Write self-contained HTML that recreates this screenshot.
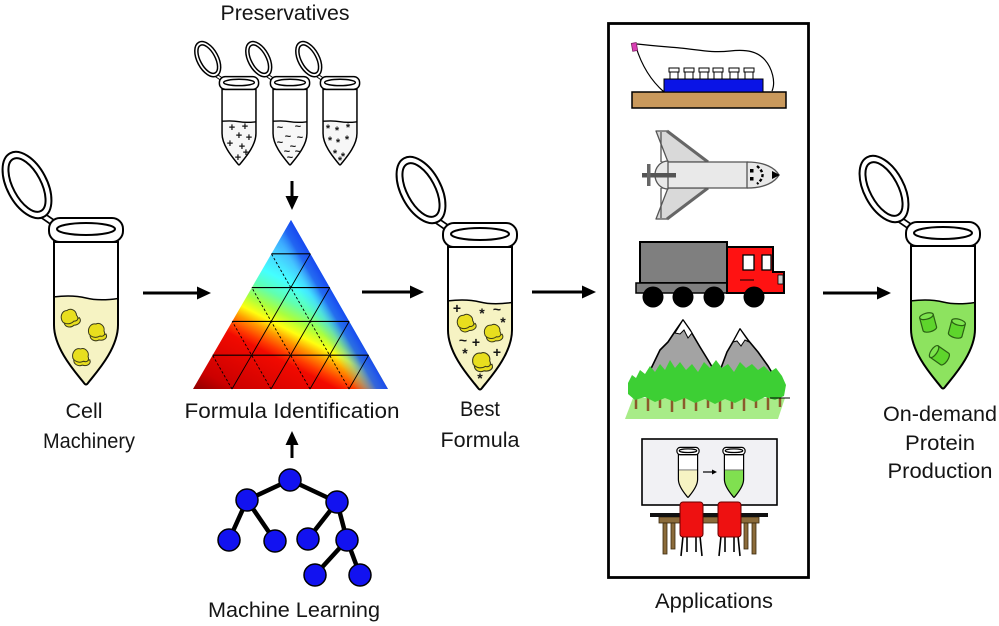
<!DOCTYPE html>
<html><head><meta charset="utf-8"><style>
html,body{margin:0;padding:0;background:#fff;}
svg{display:block;}
text{font-family:"Liberation Sans",Arial,sans-serif;fill:#151515;}
</style></head><body>
<svg width="999" height="626" viewBox="0 0 999 626" xmlns="http://www.w3.org/2000/svg">
<defs>
  <path id="tb" d="M -32,12 L -32,95 C -32,120 -8,145 -2,153 Q 0,156 2,153 C 8,145 32,120 32,95 L 32,12 Z"/>
  <clipPath id="tc"><use href="#tb"/></clipPath>
  <g id="back">
    <line x1="-44" y1="-15" x2="-31" y2="-6" stroke="#000" stroke-width="7"/>
    <line x1="-44" y1="-15" x2="-31" y2="-6" stroke="#fff" stroke-width="3.5"/>
    <g transform="translate(-59,-45) rotate(-28)" fill="#fff" stroke="#000">
      <ellipse rx="20" ry="36"/>
      <ellipse rx="14" ry="29.5"/>
    </g>
  </g>
  <g id="front" stroke="#000">
    <use href="#tb" fill="none"/>
    <rect x="-37" y="-12" width="74" height="24" rx="11" fill="#fff"/>
    <ellipse cx="0" cy="-1" rx="29" ry="6" fill="#fff"/>
  </g>
  <g id="front2" stroke="#000">
    <use href="#tb" fill="none"/>
    <rect x="-37" y="-12" width="74" height="24" rx="11" fill="#fff"/>
    <ellipse cx="0" cy="-1" rx="29" ry="6" fill="#fff"/>
  </g>
  <g id="blob" stroke="#3a3a1a" stroke-width="1" fill="#e8de1e">
    <path d="M -7,3 C -3,6 4,4 9,2 C 11,6 7,9 2,8 C -2,10 -7,8 -7,3 Z"/>
    <path d="M -8,2 C -10,-4 -6,-9 -1,-8 C 3,-10 8,-6 7,-1 C 9,3 6,5 3,4 C 0,6 -5,6 -8,2 Z"/>
  </g>
  <g id="cyl" stroke="#2b6014" stroke-width="1.2" fill="#5ed52c">
    <path d="M -7,-6 L -7,7 A 7,3 0 0 0 7,7 L 7,-6 Z"/>
    <ellipse cx="0" cy="-6" rx="7" ry="3" fill="#7de44e"/>
  </g>
  <clipPath id="tri"><polygon points="193,389 291,220 388,389"/></clipPath>
  <linearGradient id="g1" gradientUnits="userSpaceOnUse" x1="193" y1="389" x2="285" y2="211">
    <stop offset="0" stop-color="#8e0000"/>
    <stop offset="0.1" stop-color="#cc0000"/>
    <stop offset="0.33" stop-color="#f20a00"/>
    <stop offset="0.37" stop-color="#ff3a00"/>
    <stop offset="0.43" stop-color="#ff9a00"/>
    <stop offset="0.48" stop-color="#ffff10"/>
    <stop offset="0.54" stop-color="#a8ff40"/>
    <stop offset="0.61" stop-color="#60ffb0"/>
    <stop offset="0.69" stop-color="#44ffff"/>
    <stop offset="0.8" stop-color="#48ccff"/>
    <stop offset="0.9" stop-color="#2e8cff"/>
    <stop offset="1" stop-color="#2060ff"/>
  </linearGradient>
  <linearGradient id="g2" gradientUnits="userSpaceOnUse" x1="340" y1="304" x2="314" y2="319">
    <stop offset="0" stop-color="#1848f0" stop-opacity="1"/>
    <stop offset="0.35" stop-color="#2060f0" stop-opacity="0.9"/>
    <stop offset="0.7" stop-color="#40b0ff" stop-opacity="0.35"/>
    <stop offset="1" stop-color="#40c0ff" stop-opacity="0"/>
  </linearGradient>
</defs>
<rect width="999" height="626" fill="#fff"/>

<!-- ===== Cell Machinery tube ===== -->
<g transform="translate(86,230)" stroke-width="2">
  <use href="#back"/>
  <use href="#tb" fill="#fff"/>
  <g clip-path="url(#tc)"><path d="M -40,68 Q -16,64 0,68 T 40,67 L 40,170 L -40,170 Z" fill="#f6f3c3" stroke="#000" stroke-width="1.5"/></g>
  <use href="#front"/>
</g>
<use href="#blob" transform="translate(70,318) rotate(-15)"/>
<use href="#blob" transform="translate(97,332)"/>
<use href="#blob" transform="translate(81,357) rotate(5)"/>
<text x="84" y="418" font-size="21" text-anchor="middle" textLength="37" lengthAdjust="spacingAndGlyphs">Cell</text>
<text x="89" y="448" font-size="21" text-anchor="middle" textLength="92" lengthAdjust="spacingAndGlyphs">Machinery</text>

<!-- ===== Arrows ===== -->
<g stroke="#000" stroke-width="3">
  <line x1="143" y1="293" x2="199" y2="293"/>
  <line x1="362" y1="292" x2="412" y2="292"/>
  <line x1="532" y1="292" x2="584" y2="292"/>
  <line x1="823" y1="293" x2="879" y2="293"/>
  <line x1="292" y1="181" x2="292" y2="198"/>
  <line x1="292" y1="458" x2="292" y2="443"/>
</g>
<g fill="#000">
  <polygon points="211,293 197,286.5 197,299.5"/>
  <polygon points="424,292 410,285.5 410,298.5"/>
  <polygon points="596,292 582,285.5 582,298.5"/>
  <polygon points="891,293 877,286.5 877,299.5"/>
  <polygon points="292,210 285.5,196 298.5,196"/>
  <polygon points="292,431 285.5,445 298.5,445"/>
</g>

<!-- ===== Preservatives ===== -->
<text x="285" y="20" font-size="21" text-anchor="middle" textLength="129" lengthAdjust="spacingAndGlyphs">Preservatives</text>
<g transform="translate(239,83) scale(0.53)" stroke-width="2.8">
  <use href="#back"/><use href="#tb" fill="#fff"/>
  <g clip-path="url(#tc)"><path d="M -40,73 Q -16,70 0,73 T 40,72 L 40,170 L -40,170 Z" fill="#f7f7f7" stroke="#000" stroke-width="2.6"/></g>
  <use href="#front"/>
</g>
<g transform="translate(290,83) scale(0.53)" stroke-width="2.8">
  <use href="#back"/><use href="#tb" fill="#fff"/>
  <g clip-path="url(#tc)"><path d="M -40,73 Q -16,70 0,73 T 40,72 L 40,170 L -40,170 Z" fill="#f7f7f7" stroke="#000" stroke-width="2.6"/></g>
  <use href="#front"/>
</g>
<g transform="translate(340,83) scale(0.53)" stroke-width="2.8">
  <use href="#back"/><use href="#tb" fill="#fff"/>
  <g clip-path="url(#tc)"><path d="M -40,73 Q -16,70 0,73 T 40,72 L 40,170 L -40,170 Z" fill="#f7f7f7" stroke="#000" stroke-width="2.6"/></g>
  <use href="#front"/>
</g>
<g font-size="11" font-weight="bold" text-anchor="middle" dominant-baseline="central">
  <text x="232" y="128">+</text><text x="245" y="127">+</text><text x="239" y="136">+</text><text x="230" y="144">+</text>
  <text x="249" y="138">+</text><text x="242" y="147">+</text><text x="246" y="153">+</text><text x="238" y="158">+</text>
  <text x="280" y="128">~</text><text x="298" y="127">~</text><text x="288" y="137">~</text><text x="300" y="138">~</text>
  <text x="280" y="143">~</text><text x="293" y="147">~</text><text x="287" y="152">~</text><text x="298" y="152">~</text><text x="290" y="158">~</text>
  <text x="328" y="129">*</text><text x="337" y="131">*</text><text x="348" y="128">*</text><text x="330" y="141">*</text>
  <text x="338" y="143">*</text><text x="347" y="140">*</text><text x="335" y="154">*</text><text x="343" y="157">*</text><text x="340" y="161">*</text>
</g>

<!-- ===== Triangle ===== -->
<g clip-path="url(#tri)">
  <rect x="190" y="215" width="200" height="178" fill="url(#g1)"/>
  <rect x="190" y="215" width="200" height="178" fill="url(#g2)"/>
</g>
<g stroke="#000" stroke-width="1.1" fill="none">
  <line x1="212.6" y1="355.2" x2="368.6" y2="355.2"/>
  <line x1="232.2" y1="321.4" x2="349.2" y2="321.4"/>
  <line x1="251.8" y1="287.6" x2="329.8" y2="287.6"/>
  <line x1="271.4" y1="253.8" x2="310.4" y2="253.8"/>
  <line x1="232" y1="389" x2="310.4" y2="253.8" stroke-width="0.9"/>
  <line x1="271" y1="389" x2="329.8" y2="287.6" stroke-width="0.9"/>
  <line x1="310" y1="389" x2="349.2" y2="321.4" stroke-width="0.9"/>
  <line x1="349" y1="389" x2="368.6" y2="355.2" stroke-width="0.9"/>
</g>
<g stroke="#000" stroke-width="0.9" stroke-dasharray="2.5 2" fill="none">
  <line x1="232" y1="389" x2="212.6" y2="355.2"/>
  <line x1="271" y1="389" x2="232.2" y2="321.4"/>
  <line x1="310" y1="389" x2="251.8" y2="287.6"/>
  <line x1="349" y1="389" x2="271.4" y2="253.8"/>
</g>
<text x="292" y="418" font-size="21" text-anchor="middle" textLength="215" lengthAdjust="spacingAndGlyphs">Formula Identification</text>

<!-- ===== Machine learning tree ===== -->
<g stroke="#000" stroke-width="4.5">
  <line x1="290" y1="480" x2="247" y2="500"/>
  <line x1="290" y1="480" x2="337" y2="502"/>
  <line x1="247" y1="500" x2="229" y2="540"/>
  <line x1="247" y1="500" x2="275" y2="541"/>
  <line x1="337" y1="502" x2="308" y2="539"/>
  <line x1="337" y1="502" x2="347" y2="540"/>
  <line x1="347" y1="540" x2="315" y2="575"/>
  <line x1="347" y1="540" x2="360" y2="575"/>
</g>
<g fill="#1212f0" stroke="#000" stroke-width="1.5">
  <circle cx="290" cy="480" r="11"/>
  <circle cx="247" cy="500" r="11"/>
  <circle cx="337" cy="502" r="11"/>
  <circle cx="229" cy="540" r="11"/>
  <circle cx="275" cy="541" r="11"/>
  <circle cx="308" cy="539" r="11"/>
  <circle cx="347" cy="540" r="11"/>
  <circle cx="315" cy="575" r="11"/>
  <circle cx="360" cy="575" r="11"/>
</g>
<text x="294" y="617" font-size="21" text-anchor="middle" textLength="172" lengthAdjust="spacingAndGlyphs">Machine Learning</text>

<!-- ===== Best formula tube ===== -->
<g transform="translate(480,235)" stroke-width="2">
  <use href="#back"/>
  <use href="#tb" fill="#fff"/>
  <g clip-path="url(#tc)"><path d="M -40,67 Q -16,63 0,67 T 40,66 L 40,170 L -40,170 Z" fill="#f6f3c3" stroke="#000" stroke-width="1.5"/></g>
  <use href="#front"/>
</g>
<use href="#blob" transform="translate(466,323) rotate(-10)"/>
<use href="#blob" transform="translate(493,333) rotate(-5)"/>
<use href="#blob" transform="translate(482,362) scale(1.1)"/>
<g font-size="14" font-weight="bold" text-anchor="middle" dominant-baseline="central">
  <text x="457" y="308">+</text><text x="482" y="313">*</text><text x="497" y="309">~</text><text x="503" y="322">*</text>
  <text x="463" y="340">~</text><text x="476" y="342">+</text><text x="465" y="353">*</text><text x="497" y="352">+</text><text x="480" y="378">*</text>
</g>
<text x="480" y="416" font-size="21" text-anchor="middle" textLength="40" lengthAdjust="spacingAndGlyphs">Best</text>
<text x="480" y="447" font-size="21" text-anchor="middle" textLength="79" lengthAdjust="spacingAndGlyphs">Formula</text>

<!-- ===== Applications box ===== -->
<rect x="608.5" y="23.5" width="200" height="554" fill="none" stroke="#000" stroke-width="2.8"/>

<!-- bag -->
<rect x="632" y="92" width="154" height="16" fill="#c9995c" stroke="#000" stroke-width="1.5"/>
<rect x="664" y="79" width="99" height="13" fill="#0a14e6" stroke="#000" stroke-width="1"/>
<g fill="#fff" stroke="#000" stroke-width="1">
  <rect x="669" y="68" width="10" height="4"/><rect x="670" y="72" width="8" height="7"/>
  <rect x="684" y="68" width="10" height="4"/><rect x="685" y="72" width="8" height="7"/>
  <rect x="699" y="68" width="10" height="4"/><rect x="700" y="72" width="8" height="7"/>
  <rect x="713" y="68" width="10" height="4"/><rect x="714" y="72" width="8" height="7"/>
  <rect x="729" y="68" width="10" height="4"/><rect x="730" y="72" width="8" height="7"/>
  <rect x="744" y="68" width="10" height="4"/><rect x="745" y="72" width="8" height="7"/>
</g>
<path d="M 636,47 C 640,60 648,78 664,92 M 637,44 C 655,46 670,47 680,48 C 700,50 712,53 730,51 C 748,49 758,52 765,60 C 772,68 776,82 772,91" fill="none" stroke="#000" stroke-width="1.2"/>
<rect x="632" y="43" width="5" height="8" fill="#d93fb4" stroke="#7a2060" stroke-width="0.8" transform="rotate(-10 634 47)"/>

<!-- shuttle -->
<g stroke="#555" stroke-width="1.3" stroke-linejoin="round">
  <polygon points="656,131 667,131 708,162 668,162" fill="#d9d9d9"/>
  <polygon points="656,219 667,219 708,188 668,188" fill="#d9d9d9"/>
  <line x1="667" y1="131" x2="708" y2="162" stroke="#666" stroke-width="3"/>
  <line x1="667" y1="219" x2="708" y2="188" stroke="#666" stroke-width="3"/>
  <line x1="661" y1="132" x2="661" y2="162"/>
  <line x1="661" y1="188" x2="661" y2="218"/>
  <rect x="662" y="162" width="86" height="26" fill="#e9e9e9"/>
  <path d="M 668,161 A 13,14 0 0 0 668,189 Z" fill="#e9e9e9"/>
  <path d="M 747,162 C 765,162 775,168 779,175 C 775,182 765,188 747,188 Z" fill="#e9e9e9"/>
</g>
<rect x="642" y="173" width="34" height="4.5" fill="#555"/>
<rect x="647" y="164" width="3.5" height="22" fill="#666"/>
<path d="M 772,171 L 780,175 L 772,179 Z" fill="#000"/>
<path d="M 757,166 Q 768,175 757,184" fill="none" stroke="#000" stroke-width="2.4" stroke-dasharray="3 2"/>
<rect x="750" y="169" width="3.5" height="3.5" fill="#000"/>
<rect x="750" y="177" width="3.5" height="3.5" fill="#000"/>

<!-- truck -->
<rect x="640" y="242" width="87" height="41" fill="#7f7f7f" stroke="#000" stroke-width="2"/>
<rect x="636" y="283" width="94" height="10" fill="#7f7f7f" stroke="#000" stroke-width="1.5"/>
<path d="M 727,247 L 773,247 L 773,272 L 784,272 L 784,293 L 727,293 Z" fill="#ff1212" stroke="#000" stroke-width="2"/>
<rect x="743" y="255" width="11" height="15" fill="#fff" stroke="#000" stroke-width="1.3"/>
<rect x="762" y="255" width="9" height="15" fill="#fff" stroke="#000" stroke-width="1.3"/>
<rect x="778" y="275" width="5" height="9" fill="#ccc" stroke="#000" stroke-width="0.8"/>
<line x1="740" y1="280" x2="754" y2="280" stroke="#000" stroke-width="1"/>
<g fill="#000">
  <circle cx="653" cy="297" r="10.5"/>
  <circle cx="683" cy="297" r="10.5"/>
  <circle cx="714" cy="297" r="10.5"/>
  <circle cx="754" cy="297" r="10.5"/>
</g>

<!-- mountains -->
<polygon points="633,398 785,398 778,419 625,419" fill="#a8ec88"/>
<g fill="#a3a3a3" stroke="#000" stroke-width="1.6" stroke-linejoin="round">
  <path d="M 646,379 L 660,350 L 668,342 L 676,330 L 683,320 L 690,330 L 700,347 L 708,360 L 718,377 Z"/>
  <path d="M 708,380 L 718,376 L 727,352 L 734,340 L 740,329 L 748,340 L 758,352 L 768,366 L 777,381 Z"/>
</g>
<g fill="#fff" stroke="#000" stroke-width="1">
  <path d="M 683,320 L 675,333 L 680,334 L 684,330 L 688,338 L 692,333 Z"/>
  <path d="M 740,329 L 733,342 L 737,341 L 741,346 L 745,340 L 749,342 Z"/>
</g>
<g stroke="#8b5a2b" stroke-width="2.5">
  <line x1="636" y1="396" x2="636" y2="409"/><line x1="648" y1="396" x2="648" y2="411"/>
  <line x1="660" y1="396" x2="660" y2="408"/><line x1="672" y1="396" x2="672" y2="412"/>
  <line x1="684" y1="396" x2="684" y2="409"/><line x1="696" y1="396" x2="696" y2="411"/>
  <line x1="708" y1="396" x2="708" y2="408"/><line x1="720" y1="396" x2="720" y2="412"/>
  <line x1="732" y1="396" x2="732" y2="409"/><line x1="744" y1="396" x2="744" y2="411"/>
  <line x1="756" y1="396" x2="756" y2="408"/><line x1="768" y1="396" x2="768" y2="410"/>
  <line x1="780" y1="396" x2="780" y2="407"/>
</g>
<path d="M 628,383 L 632,375 L 636,378 L 640,370 L 645,374 L 650,366 L 655,372 L 660,364 L 665,370 L 670,360 L 675,368 L 680,362 L 686,370 L 692,364 L 698,372 L 704,362 L 710,368 L 716,360 L 722,368 L 728,364 L 734,372 L 740,362 L 746,368 L 752,364 L 758,370 L 764,366 L 770,372 L 776,368 L 782,376 L 786,385 L 784,396 L 775,400 L 765,397 L 755,402 L 745,398 L 735,403 L 725,399 L 715,404 L 705,399 L 695,403 L 685,398 L 675,402 L 665,398 L 655,402 L 645,397 L 635,400 L 628,394 Z" fill="#3dcf34"/>
<line x1="770" y1="398" x2="790" y2="398" stroke="#000" stroke-width="1"/>

<!-- classroom -->
<rect x="642" y="439" width="135" height="66" fill="#f1f1f4" stroke="#000" stroke-width="1.6"/>
<g transform="translate(688,451) scale(0.3)" stroke-width="4">
  <use href="#tb" fill="#fff"/>
  <g clip-path="url(#tc)"><path d="M -40,63 L 40,63 L 40,170 L -40,170 Z" fill="#f6f3c3" stroke="#666" stroke-width="3"/></g>
  <use href="#front2" stroke="#888"/>
</g>
<g transform="translate(734,451) scale(0.3)" stroke-width="4">
  <use href="#tb" fill="#fff"/>
  <g clip-path="url(#tc)"><path d="M -40,63 L 40,63 L 40,170 L -40,170 Z" fill="#80e050" stroke="#666" stroke-width="3"/></g>
  <use href="#front2" stroke="#888"/>
</g>
<line x1="703" y1="472" x2="713" y2="472" stroke="#000" stroke-width="1.2"/>
<polygon points="717,472 712,469.5 712,474.5" fill="#000"/>
<rect x="659" y="517" width="100" height="6" fill="#8b6b3a" stroke="#3a2a10" stroke-width="0.8"/>
<g fill="#8b6b3a" stroke="#3a2a10" stroke-width="0.8">
  <rect x="663" y="523" width="4" height="31"/><rect x="671" y="523" width="4" height="26"/>
  <rect x="744" y="523" width="4" height="26"/><rect x="752" y="523" width="4" height="31"/>
</g>
<rect x="650" y="513" width="118" height="4" fill="#111"/>
<g stroke="#000" stroke-width="1.6">
  <line x1="683" y1="536" x2="681" y2="556"/><line x1="700" y1="536" x2="702" y2="556"/>
  <line x1="687" y1="536" x2="687" y2="552"/><line x1="696" y1="536" x2="696" y2="552"/>
  <line x1="721" y1="536" x2="719" y2="556"/><line x1="738" y1="536" x2="740" y2="556"/>
  <line x1="725" y1="536" x2="725" y2="552"/><line x1="734" y1="536" x2="734" y2="552"/>
</g>
<rect x="680" y="502" width="23" height="35" rx="3" fill="#ee1111" stroke="#600" stroke-width="1"/>
<rect x="718" y="502" width="23" height="35" rx="3" fill="#ee1111" stroke="#600" stroke-width="1"/>

<text x="714" y="608" font-size="21" text-anchor="middle" textLength="118" lengthAdjust="spacingAndGlyphs">Applications</text>

<!-- ===== Final tube ===== -->
<g transform="translate(943,234)" stroke-width="2">
  <use href="#back"/>
  <use href="#tb" fill="#fff"/>
  <g clip-path="url(#tc)"><path d="M -40,68 Q -16,64 0,68 T 40,67 L 40,170 L -40,170 Z" fill="#8de35f" stroke="#000" stroke-width="1.5"/></g>
  <use href="#front"/>
</g>
<use href="#cyl" transform="translate(928,322) rotate(-15)"/>
<use href="#cyl" transform="translate(957,328) rotate(15)"/>
<use href="#cyl" transform="translate(939,355) rotate(-55)"/>
<text x="940" y="421" font-size="21" text-anchor="middle" textLength="114" lengthAdjust="spacingAndGlyphs">On-demand</text>
<text x="940" y="450" font-size="21" text-anchor="middle" textLength="70" lengthAdjust="spacingAndGlyphs">Protein</text>
<text x="940" y="478" font-size="21" text-anchor="middle" textLength="105" lengthAdjust="spacingAndGlyphs">Production</text>
</svg>
</body></html>
